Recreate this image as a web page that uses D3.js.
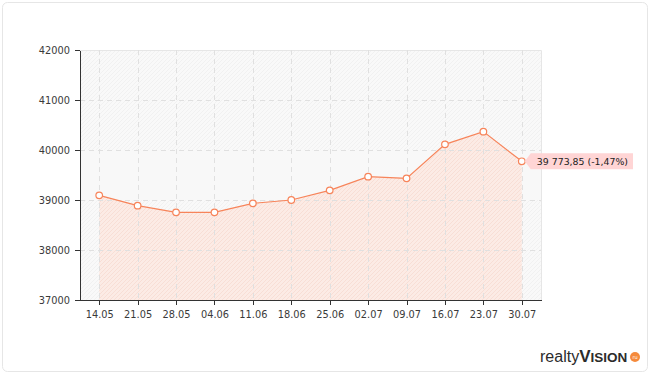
<!DOCTYPE html>
<html>
<head>
<meta charset="utf-8">
<script src="https://cdn.jsdelivr.net/npm/d3@7"></script>
<style>
  body { margin: 0; background: #fff; }
  .axis text { font-family: "DejaVu Sans", sans-serif; font-size: 9.8px; fill: #3a3a3a; }
  .axis path, .axis line { stroke: #333; shape-rendering: crispEdges; }
  .grid-line { stroke: #e0e0e0; stroke-dasharray: 5,4; shape-rendering: crispEdges; }
</style>
</head>
<body>
<script>
var width = 650,
    height = 375,
    margin = {top: 50, right: 109, bottom: 75, left: 80};

// даты (ось X)
var dates = ["14.05", "21.05", "28.05", "04.06", "11.06", "18.06",
             "25.06", "02.07", "09.07", "16.07", "23.07", "30.07"];
// значения индекса
var values = [39093, 38887, 38753, 38753, 38933, 39000,
              39193, 39467, 39433, 40113, 40367, 39773.85];
// подписи оси Y
var yTicks = [37000, 38000, 39000, 40000, 41000, 42000];

var data = dates.map(function(d, i) { return {date: d, value: values[i]}; });

var svg = d3.select("body").append("svg")
    .attr("width", width)
    .attr("height", height);

var defs = svg.append("defs");

// штриховка фона
function hatch(id, bg, fg) {
  var p = defs.append("pattern")
      .attr("id", id)
      .attr("patternUnits", "userSpaceOnUse")
      .attr("width", 4).attr("height", 4);
  p.append("rect").attr("width", 4).attr("height", 4).attr("fill", bg);
  p.append("path")
      .attr("d", "M-1,1 l2,-2 M0,4 l4,-4 M3,5 l2,-2")
      .attr("stroke", fg).attr("stroke-width", 0.8);
}
hatch("bgHatch", "#f9f9f9", "#efefef");
hatch("areaHatch", "#fcebe5", "#f7dbd1");

// рамка
svg.append("rect")
    .attr("x", 2.5).attr("y", 2.5)
    .attr("width", 645).attr("height", 369)
    .attr("rx", 5)
    .attr("fill", "#fff")
    .attr("stroke", "#e6e6e6");

var xAxisLength = width - margin.left - margin.right;
var yAxisLength = height - margin.top - margin.bottom;

var scaleX = d3.scalePoint()
    .domain(dates)
    .range([0, xAxisLength])
    .padding(0.5);

var scaleY = d3.scaleLinear()
    .domain([37000, 42000])
    .range([yAxisLength, 0]);

var g = svg.append("g")
    .attr("transform", "translate(" + margin.left + "," + margin.top + ")");

// фон области построения
g.append("rect")
    .attr("width", xAxisLength).attr("height", yAxisLength)
    .attr("fill", "url(#bgHatch)");

// светлая полоса 39000-40000
g.append("rect")
    .attr("x", 0).attr("y", scaleY(40000))
    .attr("width", xAxisLength)
    .attr("height", scaleY(39000) - scaleY(40000))
    .attr("fill", "#f8f8f8");

// верхняя и правая границы
g.append("path")
    .attr("d", "M0,0.5H" + (xAxisLength + 0.5) + "V" + yAxisLength)
    .attr("fill", "none")
    .attr("stroke", "#e6e6e6");

// область под линией
var area = d3.area()
    .x(function(d) { return scaleX(d.date); })
    .y0(yAxisLength)
    .y1(function(d) { return scaleY(d.value); });

g.append("path")
    .attr("d", area(data))
    .attr("fill", "url(#areaHatch)");

// сетка
g.selectAll(".vgrid")
    .data(dates)
  .enter().append("line")
    .attr("class", "grid-line")
    .attr("x1", function(d) { return Math.round(scaleX(d)) + 0.5; })
    .attr("x2", function(d) { return Math.round(scaleX(d)) + 0.5; })
    .attr("y1", 0)
    .attr("y2", yAxisLength);

g.selectAll(".hgrid")
    .data(yTicks.slice(1, -1))
  .enter().append("line")
    .attr("class", "grid-line")
    .attr("x1", 0)
    .attr("x2", xAxisLength)
    .attr("y1", function(d) { return scaleY(d) + 0.5; })
    .attr("y2", function(d) { return scaleY(d) + 0.5; });

// оси
var xAxis = d3.axisBottom(scaleX).tickSize(5).tickSizeOuter(0).tickPadding(6);
var yAxis = d3.axisLeft(scaleY).tickValues(yTicks).tickFormat(d3.format("d"))
    .tickSize(5).tickSizeOuter(0).tickPadding(5);

g.append("g")
    .attr("class", "axis x-axis")
    .attr("transform", "translate(0," + yAxisLength + ")")
    .call(xAxis);

g.append("g")
    .attr("class", "axis y-axis")
    .call(yAxis);

// линия
var line = d3.line()
    .x(function(d) { return scaleX(d.date); })
    .y(function(d) { return scaleY(d.value); });

g.append("path")
    .attr("d", line(data))
    .attr("fill", "none")
    .attr("stroke", "#f7845a")
    .attr("stroke-width", 1.2);

g.selectAll(".dot")
    .data(data)
  .enter().append("circle")
    .attr("cx", function(d) { return scaleX(d.date); })
    .attr("cy", function(d) { return scaleY(d.value); })
    .attr("r", 3.3)
    .attr("fill", "#fff")
    .attr("stroke", "#f7845a")
    .attr("stroke-width", 1.2);

// подпись последнего значения
var ru = d3.formatLocale({decimal: ",", thousands: " ", grouping: [3], currency: ["", ""], minus: "-"});
var last = data[data.length - 1],
    prev = data[data.length - 2],
    change = (last.value / prev.value - 1) * 100;
var labelText = ru.format(",.2f")(last.value) + " (" + ru.format(".2f")(change) + "%)";

var lx = scaleX(last.date), ly = scaleY(last.value);
var label = g.append("g").attr("transform", "translate(" + lx + "," + ly + ")");
var labelPath = label.append("path").attr("fill", "#ffd5d5");
var labelTxt = label.append("text")
    .attr("x", 15)
    .attr("y", 4)
    .style("font-family", "DejaVu Sans, sans-serif")
    .style("font-size", "9.4px")
    .style("fill", "#222")
    .text(labelText);
var tw = labelTxt.node().getComputedTextLength();
labelPath.attr("d", "M3,0 L9,-8 H" + (15 + tw + 5) + " V8 H9 Z");

// логотип
var logo = svg.append("text")
    .attr("x", 540)
    .attr("y", 362)
    .style("font-family", "Liberation Sans, Arial, sans-serif")
    .style("fill", "#2b2b2b");
logo.append("tspan").style("font-size", "16px").text("realty");
logo.append("tspan").style("font-size", "17px").style("font-weight", "bold").text("V");
logo.append("tspan").style("font-size", "13.5px").style("font-weight", "bold").text("ISION");

svg.append("circle")
    .attr("cx", 635).attr("cy", 357).attr("r", 5)
    .attr("fill", "#f58a3c");
svg.append("text")
    .attr("x", 635).attr("y", 359)
    .attr("text-anchor", "middle")
    .style("font-family", "DejaVu Sans, sans-serif")
    .style("font-size", "5px")
    .style("fill", "#fff")
    .text("ru");
</script>
</body>
</html>
